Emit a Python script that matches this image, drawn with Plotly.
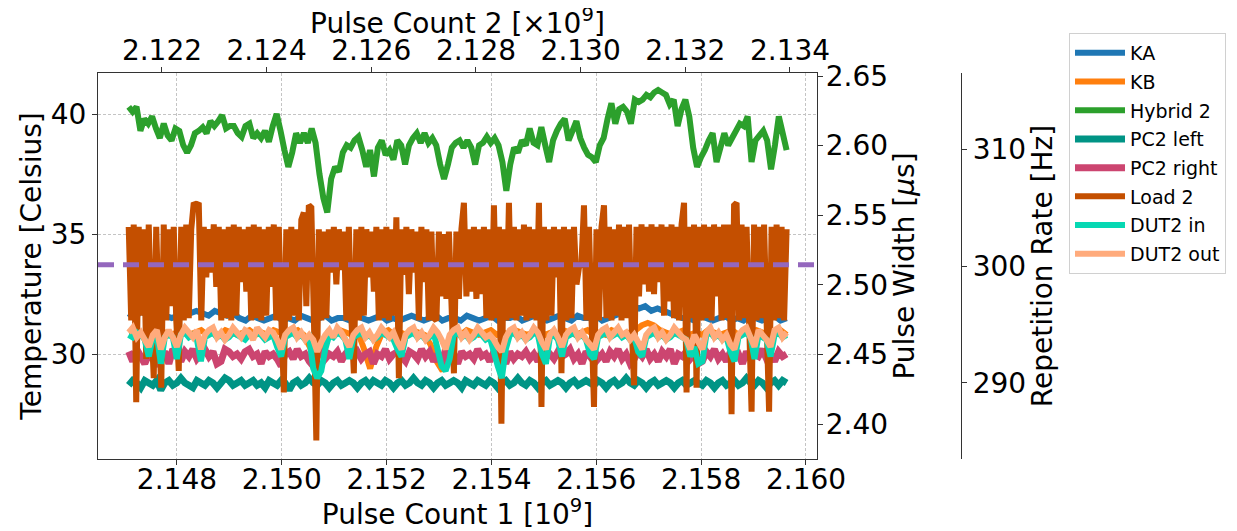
import numpy as np
import plotly.graph_objects as go

# ---------------- data ----------------
PULSE1_START = 2.14708   # first sample, Pulse Count 1 [1e9]
PULSE1_END = 2.15963     # last sample
X1_RANGE = [2.146494, 2.16021]
X2_RANGE = [2.120778, 2.134516]
TEMP_RANGE = [25.63, 41.71]
PW_RANGE = [2.3749, 2.6522]
RR_RANGE = [283.5, 316.5]

x1_ticks = [2.148, 2.150, 2.152, 2.154, 2.156, 2.158, 2.160]
x2_ticks = [2.122, 2.124, 2.126, 2.128, 2.130, 2.132, 2.134]
temp_ticks = [30, 35, 40]
pw_ticks = [2.40, 2.45, 2.50, 2.55, 2.60, 2.65]
rr_ticks = [290, 300, 310]

rep_rate = [300.1]

ka = [31.7, 31.5, 31.8, 31.6, 31.5, 31.7, 31.6, 31.5, 31.6,
      31.6, 31.7, 31.8, 31.7, 31.6, 31.8, 31.7, 31.6, 31.7,
      31.5, 31.4, 31.6, 31.5, 31.4, 31.5, 31.6, 31.4, 31.5, 31.4,
      31.6, 31.5, 31.4, 31.5, 31.6, 31.4, 31.5, 31.5, 31.4, 31.6,
      31.5, 31.4, 31.5, 31.6, 31.4, 31.5, 31.4, 31.5, 31.6, 31.5,
      31.4, 31.5, 31.6, 31.4, 31.5, 31.5, 31.4, 31.6, 31.5, 31.4,
      31.5, 31.6, 31.4, 31.5, 31.5, 31.6, 31.4, 31.5, 31.6, 31.5,
      31.4, 31.5, 31.6, 31.5, 31.4, 31.6, 31.5, 31.5, 31.6, 31.4,
      31.5, 31.6, 31.7, 31.9, 32.0, 31.9, 32.0, 31.8, 31.9, 31.8,
      31.7, 31.6, 31.5, 31.5, 31.4, 31.6, 31.5, 31.4, 31.5, 31.6,
      31.4, 31.5, 31.4, 31.6, 31.5, 31.4, 31.5, 31.6, 31.4, 31.5]

kb = [30.9, 31.0, 30.8, 30.9, 30.8, 31.0, 30.9, 30.8, 30.9, 31.0,
      30.8, 30.9, 31.0, 30.8, 30.9, 30.8, 31.0, 30.9, 30.8, 30.9,
      31.0, 30.8, 30.9, 30.8, 31.0, 30.9, 30.8, 30.9, 31.0, 30.8,
      30.3, 29.6, 30.4, 30.9, 30.8, 31.0, 30.9, 30.8, 30.9, 30.2,
      29.4, 30.3, 30.9, 31.0, 30.8, 30.9, 30.8, 31.0, 30.9, 30.8,
      30.4, 29.7, 29.3, 30.2, 30.9, 30.8, 31.0, 30.9, 30.8, 30.9,
      31.0, 30.8, 30.9, 30.8, 31.0, 30.9, 30.8, 30.9, 31.0, 30.8,
      30.9, 30.8, 31.0, 30.9, 30.8, 30.9, 31.0, 30.8, 30.9, 30.8,
      31.0, 30.9, 30.8, 30.9, 31.0, 31.2, 31.3, 31.2, 31.0, 30.9,
      30.8, 30.9, 31.0, 30.8, 30.9, 30.8, 31.0, 30.9, 30.8, 30.9,
      31.0, 30.8, 30.9, 30.8, 31.0, 30.9, 30.8, 30.9, 31.0, 30.8]

hybrid2 = [40.3, 40.1, 40.3, 39.3, 39.8, 39.6, 39.9, 39.4, 39.0, 39.6,
           39.1, 38.9, 39.4, 39.3, 38.7, 38.4, 38.7, 39.2, 39.3, 39.45,
           39.2, 39.7, 39.5, 39.7, 39.95, 39.4, 39.5, 39.5, 39.2, 39.05,
           39.5, 39.6, 39.0, 39.2, 39.0, 39.3, 38.85, 39.5, 40.0, 39.3,
           38.5, 37.8, 38.4, 39.2, 38.8, 39.2, 38.8, 39.4, 38.8, 37.5,
           36.5, 35.9, 37.3, 37.8, 37.6, 38.4, 38.7, 38.6, 38.9, 39.05,
           38.5, 37.8, 38.5, 37.4, 38.6, 38.9, 38.3, 38.5, 38.1, 38.9,
           38.7, 37.9, 38.7, 39.0, 39.2, 38.8, 39.2, 38.8, 39.0, 38.7,
           37.9, 37.3, 37.9, 38.6, 38.8, 38.9, 38.6, 38.9, 38.6, 37.9,
           38.7, 38.8, 39.05, 38.8, 39.0, 38.7, 38.0, 36.8, 37.9, 38.6,
           38.4, 38.9, 38.7, 39.4, 38.8, 38.7, 39.45, 38.7, 38.0, 38.9,
           39.3, 39.6, 39.8, 38.9, 39.3, 39.7, 39.0, 38.6, 38.3, 38.2,
           38.0, 38.7, 39.0, 39.8, 40.45, 39.6, 40.2, 40.3, 40.1, 39.6,
           40.6, 40.5, 40.6, 40.8, 40.7, 40.9, 41.0, 40.9, 40.8, 40.4,
           40.6, 39.5, 40.2, 40.6, 39.9, 38.6, 37.8, 38.2, 38.5, 38.9,
           39.2, 38.0, 38.6, 39.2, 38.7, 39.0, 39.3, 39.6, 39.5, 39.9,
           38.0, 38.9, 39.1, 39.3, 38.9, 37.7, 38.7, 39.9, 39.2, 38.5]

pc2_left = [28.7, 28.9, 28.8, 28.6, 28.9, 28.8, 28.7, 28.9, 28.5, 28.8,
            28.9, 28.7, 28.8, 29.0, 28.8, 28.7, 28.6, 28.9, 28.8, 28.7,
            28.9, 28.8, 28.6, 28.8, 29.0, 28.9, 28.7, 28.8, 28.9, 28.7,
            28.8, 28.9, 28.7, 28.8, 28.6, 28.9, 28.8, 28.7, 28.9, 28.8,
            28.5, 28.8, 28.9, 28.7, 28.8, 29.0, 28.8, 28.7, 28.9, 28.8,
            28.6, 28.8, 28.9, 28.7, 28.8, 28.9, 28.8, 28.6, 28.8, 28.9,
            28.7, 28.9, 28.8, 28.7, 28.9, 28.8, 28.6, 28.8, 28.9, 28.7,
            28.8, 29.0, 28.8, 28.7, 28.9, 28.8, 28.6, 28.8, 28.9, 28.7,
            28.8, 28.9, 28.8, 28.6, 28.9, 28.8, 28.7, 28.9, 28.8, 28.7,
            28.9, 28.8, 28.6, 28.8, 28.9, 28.7, 28.8, 29.0, 28.8, 28.7,
            28.9, 28.8, 28.6, 28.8, 28.9, 28.7, 28.8, 28.9, 28.8, 28.6,
            28.8, 28.9, 28.7, 28.8, 28.9, 28.8, 28.7, 28.9, 28.8, 28.6,
            28.8, 28.9, 28.7, 28.8, 29.0, 28.8, 28.7, 28.9, 28.8, 28.6,
            28.8, 28.9, 28.7, 28.8, 28.9, 28.8, 28.6, 28.8, 28.9, 28.7,
            28.8, 28.9, 28.8, 28.7, 28.9, 28.8, 28.6, 28.8, 28.9, 28.7,
            28.8, 28.9, 28.7, 28.8, 29.0, 28.8, 28.7, 28.9, 28.8, 28.6,
            28.8, 28.9, 28.7, 28.9, 28.8]

pc2_right = [30.1, 29.7, 30.2, 29.9, 29.6, 30.0, 29.8, 29.5, 29.9, 30.1,
             29.6, 30.2, 30.0, 29.7, 30.1, 29.9, 30.2, 29.8, 30.0, 30.2,
             29.9, 30.1, 29.6, 29.7, 30.2, 30.1, 29.9, 30.0, 29.8, 30.1,
             30.2, 29.9, 30.0, 29.6, 30.1, 29.9, 30.0, 29.8, 29.5, 30.0,
             30.1, 29.8, 30.2, 29.9, 30.0, 29.7, 29.5, 29.9, 30.2, 29.8,
             30.0, 29.9, 30.1, 29.7, 30.0, 30.2, 29.9, 30.1, 29.8, 30.0,
             30.1, 29.6, 30.0, 29.9, 30.2, 29.8, 30.0, 30.1, 29.9, 29.7,
             30.1, 30.0, 29.8, 30.2, 29.9, 30.1, 29.7, 30.0, 29.6, 30.2,
             29.8, 30.0, 29.6, 30.1, 29.9, 30.0, 29.8, 30.2, 29.9, 30.0,
             29.7, 30.1, 29.9, 30.0, 29.6, 30.1, 29.8, 30.0, 29.9, 30.1,
             29.8, 30.0, 29.7, 30.1, 29.9, 30.0, 29.8, 30.1, 29.9, 30.0,
             30.2, 29.8, 30.0, 29.6, 30.1, 29.9, 30.2, 29.8, 30.0, 29.7,
             30.1, 29.9, 30.2, 29.8, 30.0, 29.6, 29.8, 30.1, 29.9, 30.2,
             29.8, 30.0, 29.7, 30.1, 29.9, 30.2, 29.6, 30.0, 29.9, 30.1,
             29.8, 30.0, 29.6, 29.7, 30.1, 29.9, 30.2, 29.8, 30.0, 29.7,
             30.1, 29.9, 30.0, 29.6, 30.1, 29.8, 30.0, 29.9, 30.2, 29.8,
             30.0, 29.7, 30.1, 29.9, 30.0]

load2 = [35.3, 31.4, 35.4, 28.0, 35.3, 31.6, 35.2, 29.8, 35.4, 31.5,
         29.0, 35.3, 31.5, 28.6, 35.4, 31.4, 35.2, 32.0, 35.3, 31.4,
         29.3, 35.3, 31.4, 35.4, 31.5, 35.2, 36.3, 36.2, 36.3, 31.4,
         35.3, 33.2, 35.2, 33.4, 35.4, 32.8, 35.3, 31.4, 35.2, 31.5,
         35.3, 31.4, 35.4, 31.6, 35.3, 33.0, 35.2, 32.6, 35.3, 31.4,
         35.4, 31.5, 35.3, 31.4, 35.2, 31.6, 35.3, 32.8, 35.4, 31.4,
         35.3, 31.5, 28.4, 35.2, 31.4, 35.3, 31.6, 35.2, 31.4, 35.6,
         35.9, 32.0, 36.2, 36.1, 31.6, 26.4, 35.2, 31.4, 35.1, 31.5,
         35.2, 33.4, 35.3, 32.9, 35.2, 33.5, 35.1, 31.4, 35.3, 31.5,
         29.2, 35.2, 31.4, 35.3, 31.6, 35.2, 33.2, 35.1, 32.6, 35.3,
         31.4, 35.2, 31.5, 35.3, 31.4, 35.2, 31.6, 35.7, 29.0, 35.2,
         33.3, 35.3, 32.5, 35.2, 33.4, 35.1, 31.4, 35.3, 33.0, 35.2,
         31.4, 35.1, 31.5, 31.4, 35.1, 32.4, 35.0, 32.3, 35.1, 32.2,
         29.2, 35.1, 32.3, 35.2, 36.3, 32.4, 35.2, 32.6, 35.3, 32.3,
         35.2, 32.5, 35.3, 31.5, 35.2, 31.4, 36.2, 31.5, 35.3, 27.1,
         35.2, 31.4, 36.3, 31.5, 35.3, 31.4, 35.2, 31.6, 35.4, 31.4,
         35.3, 31.5, 35.2, 31.4, 36.3, 27.8, 35.3, 31.4, 35.2, 31.6,
         35.3, 33.2, 35.2, 29.2, 35.3, 31.4, 35.2, 31.5, 35.3, 32.9,
         33.6, 33.8, 36.2, 31.4, 35.3, 31.5, 27.8, 35.2, 31.4, 35.3,
         36.2, 31.5, 35.3, 31.4, 35.2, 31.6, 35.4, 31.4, 35.3, 31.5,
         35.4, 31.4, 28.7, 35.3, 32.4, 35.4, 32.9, 35.3, 32.6, 35.4,
         32.5, 35.3, 33.0, 35.4, 31.6, 35.3, 32.2, 35.4, 31.5, 35.3,
         31.4, 35.4, 36.3, 28.4, 35.3, 31.5, 35.4, 28.6, 35.3, 31.4,
         35.4, 31.5, 35.3, 31.4, 35.4, 32.4, 35.3, 31.4, 35.4, 31.5,
         35.4, 27.5, 36.2, 36.3, 31.4, 35.4, 31.5, 35.3, 31.4, 27.6,
         35.4, 31.4, 35.3, 31.5, 35.4, 31.4, 27.6, 35.3, 31.4, 35.4,
         31.5, 35.3, 31.4, 35.2]

dut2_in = [30.8, 30.7, 30.9, 30.8, 30.6, 29.9, 30.7, 30.8, 29.6, 30.7,
           30.8, 30.7, 29.8, 30.8, 30.9, 30.7, 30.8, 30.6, 29.7, 30.7,
           30.8, 30.9, 30.7, 30.8, 30.6, 30.7, 30.9, 30.8, 30.7, 30.6,
           30.8, 30.7, 30.9, 30.8, 30.6, 30.7, 30.8, 30.3, 29.9, 30.7,
           30.8, 30.9, 30.7, 30.8, 30.6, 30.7, 29.4, 29.0, 29.3, 30.2,
           30.8, 30.7, 30.9, 30.8, 30.6, 29.8, 30.7, 30.8, 30.9, 30.7,
           30.8, 30.6, 30.7, 30.9, 30.8, 30.7, 30.6, 30.2, 29.9, 30.7,
           30.8, 30.9, 30.7, 30.8, 30.6, 30.7, 30.9, 30.2, 29.5, 29.3,
           29.8, 30.8, 30.9, 30.7, 30.8, 30.6, 30.7, 30.9, 30.8, 30.6,
           30.7, 30.1, 29.5, 29.0, 30.2, 30.8, 30.9, 30.7, 30.8, 30.6,
           30.7, 30.9, 30.8, 30.0, 29.6, 30.7, 30.8, 30.6, 29.9, 30.7,
           30.8, 30.9, 30.7, 30.8, 30.6, 30.0, 29.8, 30.7, 30.8, 30.9,
           30.7, 30.8, 30.9, 30.7, 30.8, 30.6, 30.7, 30.1, 29.9, 30.7,
           30.8, 30.9, 30.7, 30.8, 30.6, 30.7, 30.9, 30.8, 30.7, 30.6,
           29.9, 30.3, 29.6, 29.7, 30.8, 30.9, 30.7, 30.8, 30.6, 30.7,
           30.1, 29.7, 30.7, 30.8, 30.9, 30.7, 29.8, 30.8, 30.7, 30.6,
           29.9, 30.8, 30.9, 30.7, 30.8]

dut2_out = [30.9, 31.1, 30.7, 30.9, 30.6, 30.3, 30.8, 31.0, 30.2, 30.7,
            31.0, 30.7, 30.3, 30.8, 31.1, 30.9, 30.7, 31.0, 30.2, 30.8,
            31.0, 31.1, 30.7, 30.9, 30.6, 30.8, 31.1, 30.9, 30.7, 31.0,
            30.9, 30.6, 31.1, 30.9, 30.7, 31.0, 30.9, 30.6, 30.2, 30.8,
            31.0, 31.1, 30.7, 30.9, 30.6, 30.8, 30.6, 30.1, 30.5, 30.8,
            31.0, 30.7, 31.1, 30.9, 30.6, 30.3, 30.8, 31.0, 31.1, 30.7,
            30.9, 30.6, 30.8, 31.1, 30.9, 30.7, 30.9, 30.5, 30.2, 30.8,
            31.0, 31.1, 30.7, 30.9, 30.6, 30.8, 31.1, 30.9, 30.6, 30.2,
            30.8, 31.0, 31.1, 30.7, 30.9, 30.6, 30.8, 31.1, 30.9, 30.7,
            30.8, 30.6, 30.3, 30.1, 30.7, 31.0, 31.1, 30.7, 30.9, 30.6,
            30.8, 31.1, 30.9, 30.5, 30.2, 30.8, 31.0, 30.7, 30.3, 30.8,
            31.0, 31.1, 30.7, 30.9, 30.6, 30.4, 30.2, 30.8, 31.0, 31.1,
            30.7, 30.9, 31.1, 30.8, 30.9, 30.6, 30.8, 30.5, 30.2, 30.8,
            31.0, 31.1, 30.7, 30.9, 30.6, 30.8, 31.1, 30.9, 30.7, 30.6,
            30.2, 30.8, 30.5, 30.2, 30.9, 31.1, 30.7, 30.9, 30.6, 30.8,
            30.4, 30.2, 30.8, 31.0, 31.1, 30.7, 30.3, 31.0, 30.8, 30.6,
            30.3, 31.0, 31.1, 30.7, 30.9]

series = [
    ("KA", ka, "#1f77b4", 6),
    ("KB", kb, "#ff7f0e", 6),
    ("Hybrid 2", hybrid2, "#2ca02c", 6),
    ("PC2 left", pc2_left, "#009485", 7),
    ("PC2 right", pc2_right, "#cc4570", 7),
    ("Load 2", load2, "#c44f00", 6),
    ("DUT2 in", dut2_in, "#06d8b3", 6),
    ("DUT2 out", dut2_out, "#ffab7c", 6),
]

FONT = "DejaVu Sans"
AX = "#333333"
GRID = "#c4c4c4"

# The page body has an 8px margin, so figure coordinates = window coordinates - 8.
FIG_W, FIG_H = 1221, 523
L, R, T, B = 90, 0, 25, 72          # paper spans plot-left .. legend-right
PAPER_W = FIG_W - L - R
PAPER_H = FIG_H - T - B
X_DOM = [0, 719 / PAPER_W]
Y_DOM = [0, 386 / PAPER_H]

fig = go.Figure()
for name, vals, col, w in series:
    xs = np.linspace(PULSE1_START, PULSE1_END, len(vals))
    fig.add_trace(go.Scatter(
        x=xs, y=vals, mode="lines", name=name, legendgroup=name,
        line=dict(color=col, width=w, simplify=False), xaxis="x", yaxis="y",
    ))

# empty traces so the twin axes (top x, right pulse width, repetition rate) are drawn
fig.add_trace(go.Scatter(x=[], y=[], xaxis="x2", yaxis="y", showlegend=False, hoverinfo="skip"))
fig.add_trace(go.Scatter(x=[], y=[], xaxis="x", yaxis="y2", showlegend=False, hoverinfo="skip"))
fig.add_trace(go.Scatter(x=[], y=[], xaxis="x", yaxis="y3", showlegend=False, hoverinfo="skip"))

# repetition rate (horizontal dashed line on its own axis)
for rr in rep_rate:
    fig.add_shape(type="line", xref="x domain", yref="y3", x0=0, x1=1,
                  y0=rr, y1=rr, layer="above",
                  line=dict(color="#9467bd", width=5, dash="16px,9px"))

# top axis title (placed as an annotation so it can sit close to the page top)
fig.add_annotation(text="Pulse Count 2 [×10<sup>9</sup>]", xref="x domain", yref="paper",
                   x=0.5, y=(FIG_H - B - 13) / PAPER_H, xanchor="center", yanchor="middle",
                   showarrow=False, font=dict(size=28, family=FONT, color="black"))

common_tick = dict(ticks="outside", ticklen=5, tickwidth=1, tickcolor=AX,
                   showline=True, linecolor=AX, linewidth=1.2,
                   tickfont=dict(size=28, color="black", family=FONT),
                   zeroline=False, automargin=False)

fig.update_layout(
    width=FIG_W, height=FIG_H,
    margin=dict(l=L, r=R, t=T, b=B),
    paper_bgcolor="white", plot_bgcolor="white",
    font=dict(family=FONT, color="black"),
    showlegend=True,
    legend=dict(x=(1069 - 98) / PAPER_W, y=1.0, xanchor="left", yanchor="top",
                font=dict(size=19, family=FONT), bordercolor="#d0d0d0", borderwidth=1,
                tracegroupgap=1, bgcolor="white", itemwidth=50),
    xaxis=dict(domain=X_DOM, range=X1_RANGE, tickvals=x1_ticks, tickformat=".3f",
               showgrid=True, gridcolor=GRID, griddash="3px,2px", gridwidth=1,
               ticklabelstandoff=-10,
               title=dict(text="Pulse Count 1 [10<sup>9</sup>]", font=dict(size=28), standoff=12),
               anchor="y", **common_tick),
    xaxis2=dict(domain=X_DOM, range=X2_RANGE, tickvals=x2_ticks, tickformat=".3f",
                overlaying="x", side="top", anchor="y", showgrid=False,
                ticklabelstandoff=-4, **common_tick),
    yaxis=dict(domain=Y_DOM, range=TEMP_RANGE, tickvals=temp_ticks,
               showgrid=True, gridcolor=GRID, griddash="3px,2px", gridwidth=1,
               title=dict(text="Temperature [Celsius]", font=dict(size=28), standoff=0),
               anchor="x", **common_tick),
    yaxis2=dict(range=PW_RANGE, tickvals=pw_ticks, tickformat=".2f",
                overlaying="y", side="right", anchor="x", showgrid=False,
                ticklabelstandoff=-3,
                title=dict(text="Pulse Width [<i>μ</i>s]", font=dict(size=28), standoff=1),
                **common_tick),
    yaxis3=dict(range=RR_RANGE, tickvals=rr_ticks,
                overlaying="y", side="right", anchor="free",
                position=(961 - 98) / PAPER_W, showgrid=False,
                title=dict(text="Repetition Rate [Hz]", font=dict(size=28), standoff=4),
                **common_tick),
)

fig.write_html("out.html")
